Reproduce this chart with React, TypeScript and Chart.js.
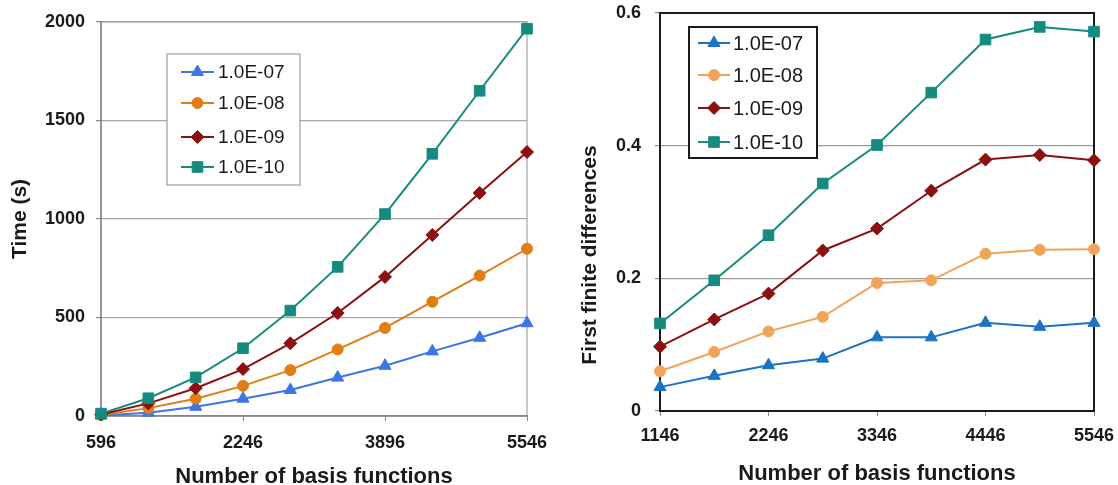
import React, { useEffect, useRef } from "react";
import { Chart, registerables } from "chart.js";
Chart.register(...registerables);

const FONT = "'Liberation Sans', Arial, sans-serif";

const seriesLabels = ["1.0E-07", "1.0E-08", "1.0E-09", "1.0E-10"];

// Left chart: time
const timeX = [596, 1146, 1696, 2246, 2796, 3346, 3896, 4446, 4996, 5546];
const timeXTicks = [596, 2246, 3896, 5546];
const timeYTicks = [0, 500, 1000, 1500, 2000];
const time07 = [3, 17, 47, 88, 132, 195, 255, 328, 397, 471];
const time08 = [5, 40, 88, 153, 233, 338, 447, 580, 713, 849];
const time09 = [8, 64, 141, 238, 369, 523, 706, 919, 1132, 1340];
const time10 = [12, 90, 196, 344, 535, 757, 1025, 1331, 1651, 1966];

// Right chart: first finite differences
const diffX = [1146, 1696, 2246, 2796, 3346, 3896, 4446, 4996, 5546];
const diffXTicks = [1146, 2246, 3346, 4446, 5546];
const diffYTicks = [0, 0.2, 0.4, 0.6];
const diff07 = [0.036, 0.053, 0.069, 0.079, 0.111, 0.111, 0.133, 0.127, 0.133];
const diff08 = [0.060, 0.089, 0.120, 0.142, 0.193, 0.197, 0.237, 0.243, 0.244];
const diff09 = [0.097, 0.138, 0.177, 0.242, 0.275, 0.332, 0.379, 0.386, 0.378];
const diff10 = [0.132, 0.197, 0.265, 0.343, 0.401, 0.480, 0.560, 0.579, 0.572];

const leftColors = ["#3d74e6", "#e07d14", "#8c1010", "#178a80"];
const rightColors = ["#1c72c4", "#f0a45a", "#8b1111", "#178a80"];
const pointStyles = ["triangle", "circle", "rectRot", "rect"];
const pointRadii = [7, 5.5, 6.5, 7.5];
const drawOrder = [3, 2, 1, 0];

function drawMarker(ctx: CanvasRenderingContext2D, style: string, x: number, y: number, r: number, color: string) {
  ctx.save();
  ctx.fillStyle = color;
  ctx.strokeStyle = color;
  ctx.lineWidth = 1;
  ctx.beginPath();
  if (style === "circle") {
    ctx.arc(x, y, r, 0, Math.PI * 2);
  } else if (style === "rect") {
    const s = Math.SQRT1_2 * r;
    ctx.rect(x - s, y - s, 2 * s, 2 * s);
  } else if (style === "rectRot") {
    ctx.moveTo(x - r, y);
    ctx.lineTo(x, y - r);
    ctx.lineTo(x + r, y);
    ctx.lineTo(x, y + r);
    ctx.closePath();
  } else {
    let a = 0;
    ctx.moveTo(x + Math.sin(a) * r, y - Math.cos(a) * r);
    a += (2 * Math.PI) / 3;
    ctx.lineTo(x + Math.sin(a) * r, y - Math.cos(a) * r);
    a += (2 * Math.PI) / 3;
    ctx.lineTo(x + Math.sin(a) * r, y - Math.cos(a) * r);
    ctx.closePath();
  }
  ctx.fill();
  ctx.stroke();
  ctx.restore();
}

const framePlugin = {
  id: "frame",
  beforeDatasetsDraw(chart: any, _args: any, opts: any) {
    const { ctx, chartArea: a } = chart;
    const sides = opts.sides; // [top, right, bottom, left]
    const lines = [
      [a.left, a.top, a.right, a.top],
      [a.right, a.top, a.right, a.bottom],
      [a.left, a.bottom, a.right, a.bottom],
      [a.left, a.top, a.left, a.bottom],
    ];
    ctx.save();
    ctx.lineCap = "square";
    lines.forEach((l, i) => {
      ctx.strokeStyle = sides[i].color;
      ctx.lineWidth = sides[i].width;
      ctx.beginPath();
      ctx.moveTo(l[0], l[1]);
      ctx.lineTo(l[2], l[3]);
      ctx.stroke();
    });
    ctx.restore();
  },
};

const boxLegendPlugin = {
  id: "boxLegend",
  afterDraw(chart: any, _args: any, o: any) {
    const { ctx } = chart;
    ctx.save();
    ctx.fillStyle = "#ffffff";
    ctx.fillRect(o.x, o.y, o.w, o.h);
    ctx.strokeStyle = o.borderColor;
    ctx.lineWidth = o.borderWidth;
    ctx.strokeRect(o.x, o.y, o.w, o.h);
    chart.data.datasets.forEach((ds: any, i: number) => {
      const y = o.rows[i];
      ctx.strokeStyle = ds.borderColor;
      ctx.lineWidth = ds.borderWidth;
      ctx.beginPath();
      ctx.moveTo(o.lineX0, y);
      ctx.lineTo(o.lineX1, y);
      ctx.stroke();
      drawMarker(ctx, ds.pointStyle, (o.lineX0 + o.lineX1) / 2, y, ds.pointRadius, ds.borderColor);
      ctx.fillStyle = "#1a1a1a";
      ctx.font = `${o.fontSize}px ${FONT}`;
      ctx.textAlign = "left";
      ctx.textBaseline = "middle";
      ctx.fillText(ds.label, o.textX, y + 1);
    });
    ctx.restore();
  },
};

const sideTitlePlugin = {
  id: "sideTitle",
  afterDraw(chart: any, _args: any, o: any) {
    if (!o || !o.text) return;
    const { ctx } = chart;
    ctx.save();
    ctx.translate(o.x, o.y);
    ctx.rotate(-Math.PI / 2);
    ctx.fillStyle = "#1a1a1a";
    ctx.font = `bold ${o.fontSize}px ${FONT}`;
    ctx.textAlign = "center";
    ctx.textBaseline = "middle";
    ctx.fillText(o.text, 0, 0);
    ctx.restore();
  },
};

function makeDatasets(xs: number[], series: number[][], colors: string[]) {
  return series.map((vals, i) => ({
    label: seriesLabels[i],
    data: vals.map((v, j) => ({ x: xs[j], y: v })),
    borderColor: colors[i],
    backgroundColor: colors[i],
    borderWidth: 2,
    pointStyle: pointStyles[i],
    pointRadius: pointRadii[i],
    pointBackgroundColor: colors[i],
    pointBorderColor: colors[i],
    pointBorderWidth: 1,
    tension: 0,
    clip: false,
    order: drawOrder[i],
  }));
}

const tickFont = { family: FONT, size: 18, weight: "bold" as const };
const titleFont = { family: FONT, size: 22, weight: "bold" as const };

function leftConfig(): any {
  return {
    type: "line",
    data: { datasets: makeDatasets(timeX, [time07, time08, time09, time10], leftColors) },
    plugins: [framePlugin, boxLegendPlugin],
    options: {
      responsive: false,
      animation: false,
      layout: { padding: { left: 0, right: 33, top: 22, bottom: 0 } },
      plugins: {
        legend: { display: false },
        tooltip: { enabled: false },
        frame: {
          sides: [
            { color: "#a3a3a3", width: 1.2 },
            { color: "#a3a3a3", width: 1.2 },
            { color: "#7a7a7a", width: 1.6 },
            { color: "#7a7a7a", width: 1.6 },
          ],
        },
        boxLegend: {
          x: 167, y: 54, w: 133, h: 131,
          rows: [72, 103, 137, 167],
          lineX0: 181, lineX1: 214, textX: 218,
          fontSize: 19, borderColor: "#8a8a8a", borderWidth: 1,
        },
      },
      scales: {
        x: {
          type: "linear",
          min: 596,
          max: 5546,
          afterBuildTicks: (s: any) => { s.ticks = timeXTicks.map((v) => ({ value: v })); },
          afterFit: (s: any) => { s.height = 69; s.paddingRight = 0; s.paddingLeft = 0; },
          grid: { drawOnChartArea: false, drawTicks: true, tickLength: 5, tickColor: "#8a8a8a" },
          border: { display: false },
          ticks: { font: tickFont, color: "#1a1a1a", padding: 11, maxRotation: 0, autoSkip: false, callback: (v: any) => String(v) },
          title: { display: true, text: "Number of basis functions", font: titleFont, color: "#1a1a1a", padding: { top: 0, bottom: -5 } },
        },
        y: {
          type: "linear",
          min: 0,
          max: 2000,
          afterBuildTicks: (s: any) => { s.ticks = timeYTicks.map((v) => ({ value: v })); },
          afterFit: (s: any) => { s.width = 101; s.paddingTop = 0; s.paddingBottom = 0; },
          grid: { color: "#a8a8a8", lineWidth: 1.2, drawTicks: true, tickLength: 5, tickColor: "#8a8a8a" },
          border: { display: false },
          ticks: { font: tickFont, color: "#1a1a1a", padding: 11, callback: (v: any) => String(v) },
          title: { display: true, text: "Time (s)", font: { family: FONT, size: 21, weight: "bold" }, color: "#1a1a1a", padding: { top: 8, bottom: 0 } },
        },
      },
    },
  };
}

function rightConfig(): any {
  return {
    type: "line",
    data: { datasets: makeDatasets(diffX, [diff07, diff08, diff09, diff10], rightColors) },
    plugins: [framePlugin, boxLegendPlugin, sideTitlePlugin],
    options: {
      responsive: false,
      animation: false,
      layout: { padding: { left: 0, right: 24, top: 13, bottom: 0 } },
      plugins: {
        legend: { display: false },
        tooltip: { enabled: false },
        frame: {
          sides: [
            { color: "#1a1a1a", width: 2 },
            { color: "#1a1a1a", width: 2 },
            { color: "#1a1a1a", width: 2 },
            { color: "#1a1a1a", width: 2 },
          ],
        },
        boxLegend: {
          x: 129, y: 27, w: 128, h: 131,
          rows: [43, 75, 108, 142],
          lineX0: 138, lineX1: 170, textX: 173,
          fontSize: 20, borderColor: "#1a1a1a", borderWidth: 2,
        },
        sideTitle: { text: "First finite differences", x: 30, y: 255, fontSize: 21 },
      },
      scales: {
        x: {
          type: "linear",
          min: 1146,
          max: 5546,
          afterBuildTicks: (s: any) => { s.ticks = diffXTicks.map((v) => ({ value: v })); },
          afterFit: (s: any) => { s.height = 74; s.paddingRight = 0; s.paddingLeft = 0; },
          grid: { drawOnChartArea: false, drawTicks: true, tickLength: 5, tickColor: "#8a8a8a" },
          border: { display: false },
          ticks: { font: tickFont, color: "#1a1a1a", padding: 9, maxRotation: 0, autoSkip: false, callback: (v: any) => String(v) },
          title: { display: true, text: "Number of basis functions", font: titleFont, color: "#1a1a1a", padding: { top: 0, bottom: -2 } },
        },
        y: {
          type: "linear",
          min: 0,
          max: 0.6,
          afterBuildTicks: (s: any) => { s.ticks = diffYTicks.map((v) => ({ value: v })); },
          afterFit: (s: any) => { s.width = 100; s.paddingTop = 0; s.paddingBottom = 0; },
          grid: { color: "#9a9a9a", lineWidth: 1.2, drawTicks: true, tickLength: 5, tickColor: "#8a8a8a" },
          border: { display: false },
          ticks: { font: tickFont, color: "#1a1a1a", padding: 14, callback: (v: any) => String(v) },
          title: { display: false },
        },
      },
    },
  };
}

function ChartCanvas({ makeConfig, left, width }: { makeConfig: () => any; left: number; width: number }) {
  const ref = useRef<HTMLCanvasElement>(null);
  useEffect(() => {
    const chart = new Chart(ref.current as HTMLCanvasElement, makeConfig());
    return () => chart.destroy();
  }, []);
  return (
    <canvas
      ref={ref}
      width={width}
      height={485}
      style={{ position: "absolute", left, top: 0, width, height: 485 }}
    />
  );
}

export default function App() {
  return (
    <div style={{ position: "absolute", left: 0, top: 0, width: 1118, height: 485, overflow: "hidden", background: "#ffffff" }}>
      <ChartCanvas makeConfig={leftConfig} left={0} width={560} />
      <ChartCanvas makeConfig={rightConfig} left={560} width={558} />
    </div>
  );
}
